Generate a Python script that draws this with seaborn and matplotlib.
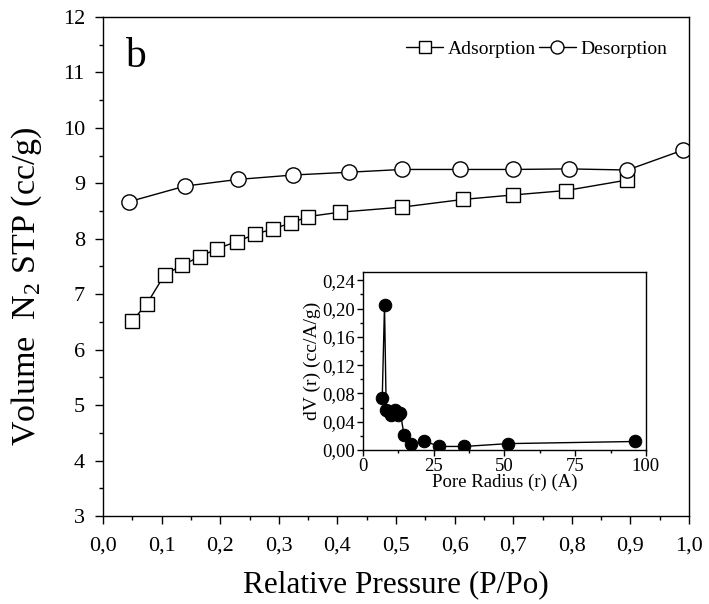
import matplotlib
matplotlib.use("Agg")
import matplotlib.pyplot as plt
from matplotlib.ticker import FuncFormatter, MultipleLocator
import seaborn as sns
import pandas as pd

# Main isotherm data
ads_p = [0.05, 0.075, 0.105, 0.135, 0.165, 0.195, 0.228, 0.26, 0.29, 0.32, 0.35,
         0.405, 0.51, 0.615, 0.70, 0.79, 0.895]
ads_v = [6.52, 6.83, 7.35, 7.52, 7.68, 7.82, 7.95, 8.08, 8.18, 8.28, 8.40,
         8.48, 8.57, 8.71, 8.79, 8.87, 9.06]
des_p = [0.045, 0.14, 0.23, 0.325, 0.42, 0.51, 0.61, 0.70, 0.795, 0.895, 0.99]
des_v = [8.67, 8.95, 9.07, 9.15, 9.20, 9.25, 9.25, 9.25, 9.26, 9.24, 9.60]

# Inset pore size distribution
pore_r = [6.8, 7.6, 8.2, 9.0, 9.8, 10.6, 11.4, 12.2, 13.2, 14.5, 17.0, 21.4,
          27.0, 35.8, 51.3, 96.0]
pore_dv = [0.074, 0.205, 0.057, 0.055, 0.050, 0.052, 0.056, 0.049, 0.053, 0.021,
           0.008, 0.013, 0.005, 0.005, 0.009, 0.012]

main_xticks = [0.0, 0.1, 0.2, 0.3, 0.4, 0.5, 0.6, 0.7, 0.8, 0.9, 1.0]
main_yticks = [3, 4, 5, 6, 7, 8, 9, 10, 11, 12]
inset_xticks = [0, 25, 50, 75, 100]
inset_yticks = [0.00, 0.04, 0.08, 0.12, 0.16, 0.20, 0.24]

sns.set_theme(style="ticks")
plt.rcParams['font.family'] = ['Liberation Serif', 'DejaVu Serif']
plt.rcParams['mathtext.fontset'] = 'custom'
plt.rcParams['mathtext.rm'] = 'Liberation Serif'
plt.rcParams['text.color'] = 'black'
plt.rcParams['axes.labelcolor'] = 'black'
plt.rcParams['xtick.color'] = 'black'
plt.rcParams['ytick.color'] = 'black'
plt.rcParams['axes.edgecolor'] = 'black'

fig = plt.figure(figsize=(7.09, 6.04), dpi=100)
ax = fig.add_axes([0.1453, 0.1457, 0.8265, 0.8262])

ads_df = pd.DataFrame({"p": ads_p, "v": ads_v})
des_df = pd.DataFrame({"p": des_p, "v": des_v})
sns.lineplot(data=ads_df, x="p", y="v", ax=ax, sort=False, color="black", lw=1,
             marker="s", markersize=10, markerfacecolor="white",
             markeredgecolor="black", markeredgewidth=1, label="Adsorption")
sns.lineplot(data=des_df, x="p", y="v", ax=ax, sort=False, color="black", lw=1,
             marker="o", markersize=11, markerfacecolor="white",
             markeredgecolor="black", markeredgewidth=1, label="Desorption")

ax.set_xlim(0, 1.0)
ax.set_ylim(3, 12)
ax.set_xticks(main_xticks)
ax.set_yticks(main_yticks)
ax.xaxis.set_minor_locator(MultipleLocator(0.05))
ax.yaxis.set_minor_locator(MultipleLocator(0.5))
ax.xaxis.set_major_formatter(FuncFormatter(lambda v, p: f"{v:.1f}".replace('.', ',')))
ax.yaxis.set_major_formatter(FuncFormatter(lambda v, p: f"{v:.0f}"))
ax.tick_params(axis='both', which='major', direction='out', length=6, width=1,
               labelsize=16, colors='black')
ax.tick_params(axis='x', which='major', pad=9)
ax.tick_params(axis='y', which='major', pad=7)
ax.tick_params(axis='both', which='minor', direction='out', length=3.2, width=1,
               colors='black')
for s in ax.spines.values():
    s.set_color('black')
    s.set_linewidth(1)
ax.set_xlabel("Relative Pressure (P/Po)", fontsize=22.5, labelpad=10, color='black')
ax.set_ylabel(r"Volume  N$_2$ STP (cc/g)", fontsize=24.5, color='black')
ax.yaxis.set_label_coords(-0.1, 0.46)
ax.text(0.055, 0.92, "b", transform=ax.transAxes, fontsize=30, ha='center',
        va='center', color='black')
leg = ax.legend(loc='upper right', ncol=2, frameon=False, fontsize=14,
                handlelength=1.9, handletextpad=0.25, columnspacing=0.15,
                markerscale=0.85, bbox_to_anchor=(0.99, 0.985), borderaxespad=0.4)
for t in leg.get_texts():
    t.set_color('black')

# Inset
ins = fig.add_axes([0.512, 0.255, 0.399, 0.295])
pore_df = pd.DataFrame({"r": pore_r, "dv": pore_dv})
sns.lineplot(data=pore_df, x="r", y="dv", ax=ins, sort=False, color="black",
             lw=1, marker="o", markersize=9, markerfacecolor="black",
             markeredgecolor="black")
ins.set_xlim(0, 100)
ins.set_ylim(0, 0.252)
ins.set_xticks(inset_xticks)
ins.set_yticks(inset_yticks)
ins.xaxis.set_minor_locator(MultipleLocator(12.5))
ins.yaxis.set_minor_locator(MultipleLocator(0.02))
ins.yaxis.set_major_formatter(FuncFormatter(lambda v, p: f"{v:.2f}".replace('.', ',')))
ins.xaxis.set_major_formatter(FuncFormatter(lambda v, p: f"{v:.0f}"))
ins.tick_params(axis='both', which='major', direction='out', length=4, width=1,
                labelsize=13.5, colors='black', pad=2)
ins.tick_params(axis='both', which='minor', direction='out', length=2.5, width=1,
                colors='black')
for s in ins.spines.values():
    s.set_color('black')
    s.set_linewidth(1)
ins.set_xlabel("Pore Radius (r) (A)", fontsize=13.5, labelpad=-1, color='black')
ins.set_ylabel("dV (r) (cc/A/g)", fontsize=14, labelpad=1, color='black')

fig.savefig("out.png", dpi=100)
